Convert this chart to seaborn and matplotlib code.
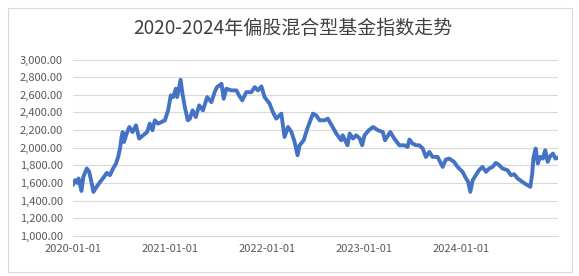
import matplotlib
matplotlib.use("Agg")
import matplotlib.pyplot as plt
from matplotlib.ticker import FuncFormatter, MultipleLocator
from matplotlib.patches import Rectangle
import pandas as pd
import seaborn as sns

title = "2020-2024年偏股混合型基金指数走势"

dates = [
    "2020-01-02", "2020-01-10", "2020-01-18", "2020-01-23", "2020-02-03", "2020-02-10",
    "2020-02-23", "2020-03-03", "2020-03-10", "2020-03-19", "2020-03-31", "2020-04-13",
    "2020-04-28", "2020-05-08", "2020-05-20", "2020-06-01", "2020-06-12", "2020-06-20",
    "2020-06-27", "2020-07-03", "2020-07-07", "2020-07-12", "2020-07-22", "2020-08-01",
    "2020-08-13", "2020-08-26", "2020-09-07", "2020-09-22", "2020-10-07", "2020-10-17",
    "2020-10-27", "2020-11-05", "2020-11-17", "2020-11-30", "2020-12-13", "2020-12-25",
    "2021-01-04", "2021-01-13", "2021-01-23", "2021-01-28", "2021-02-10", "2021-02-17",
    "2021-02-26", "2021-03-09", "2021-03-17", "2021-03-27", "2021-04-08", "2021-04-21",
    "2021-05-05", "2021-05-21", "2021-06-06", "2021-06-18", "2021-06-27", "2021-07-14",
    "2021-07-22", "2021-08-01", "2021-08-20", "2021-09-08", "2021-09-18", "2021-09-30",
    "2021-10-15", "2021-11-03", "2021-11-16", "2021-11-28", "2021-12-11", "2021-12-23",
    "2022-01-11", "2022-01-23", "2022-02-05", "2022-02-24", "2022-03-08", "2022-03-21",
    "2022-04-03", "2022-04-15", "2022-04-26", "2022-05-04", "2022-05-19", "2022-06-04",
    "2022-06-23", "2022-07-05", "2022-07-18", "2022-08-06", "2022-08-18", "2022-08-25",
    "2022-09-06", "2022-09-19", "2022-10-07", "2022-10-13", "2022-10-31", "2022-11-08",
    "2022-11-21", "2022-12-03", "2022-12-16", "2022-12-25", "2023-01-03", "2023-01-19",
    "2023-02-04", "2023-02-23", "2023-03-13", "2023-03-21", "2023-04-10", "2023-04-25",
    "2023-05-14", "2023-06-02", "2023-06-14", "2023-06-21", "2023-07-03", "2023-07-16",
    "2023-07-28", "2023-08-10", "2023-08-22", "2023-09-04", "2023-09-16", "2023-10-05",
    "2023-10-24", "2023-11-05", "2023-11-18", "2023-12-06", "2023-12-19", "2024-01-07",
    "2024-01-20", "2024-01-28", "2024-02-05", "2024-02-14", "2024-02-26", "2024-03-09",
    "2024-03-22", "2024-04-04", "2024-04-16", "2024-04-29", "2024-05-11", "2024-05-24",
    "2024-06-05", "2024-06-24", "2024-07-07", "2024-07-19", "2024-08-01", "2024-08-19",
    "2024-09-07", "2024-09-18", "2024-09-25", "2024-09-30", "2024-10-08", "2024-10-16",
    "2024-10-25", "2024-11-04", "2024-11-13", "2024-11-22", "2024-12-02", "2024-12-12",
    "2024-12-21", "2024-12-31",
]

index_values = [
    1580, 1633, 1602, 1652, 1510, 1670,
    1765, 1727, 1633, 1500, 1557, 1613,
    1670, 1715, 1689, 1765, 1821, 1896,
    1991, 2122, 2178, 2065, 2160, 2235,
    2178, 2254, 2104, 2141, 2178, 2273,
    2198, 2311, 2273, 2292, 2311, 2424,
    2593, 2574, 2669, 2574, 2770, 2612,
    2461, 2311, 2330, 2424, 2348, 2480,
    2424, 2574, 2517, 2630, 2687, 2725,
    2555, 2669, 2650, 2650, 2593, 2537,
    2630, 2630, 2687, 2650, 2695, 2574,
    2499, 2405, 2330, 2386, 2122, 2235,
    2178, 2065, 1915, 2028, 2085, 2235,
    2386, 2367, 2311, 2311, 2330, 2292,
    2230, 2160, 2085, 2141, 2028, 2160,
    2104, 2141, 2104, 2028, 2141, 2198,
    2235, 2198, 2178, 2085, 2178, 2104,
    2028, 2028, 2009, 2093, 2047, 2028,
    2028, 1991, 1896, 1953, 1896, 1896,
    1783, 1866, 1877, 1840, 1783, 1727,
    1652, 1613, 1500, 1633, 1689, 1746,
    1783, 1727, 1765, 1783, 1828, 1802,
    1765, 1746, 1689, 1700, 1652, 1613,
    1576, 1557, 1708, 1896, 1991, 1821,
    1896, 1877, 1972, 1840, 1907, 1934,
    1877, 1889,
]

x_ticks = ["2020-01-01", "2021-01-01", "2022-01-01", "2023-01-01", "2024-01-01"]
x_start, x_end = "2020-01-01", "2024-12-31"
y_min, y_max, y_step = 1000, 3000, 200

df = pd.DataFrame({"date": pd.to_datetime(dates), "value": index_values})

sns.set_theme(style="white")
plt.rcParams["font.family"] = ["Noto Sans CJK SC", "DejaVu Sans"]

fig = plt.figure(figsize=(5.79, 2.76), dpi=100)
ax = fig.add_axes([72.7 / 579, 1 - 236 / 276, (558 - 72.7) / 579, (236 - 59.5) / 276])

sns.lineplot(data=df, x="date", y="value", ax=ax, color="#4472C4", linewidth=2.8)

ax.set_xlim(pd.Timestamp(x_start), pd.Timestamp(x_end))
ax.set_ylim(y_min, y_max)
ax.yaxis.set_major_locator(MultipleLocator(y_step))
ax.yaxis.set_major_formatter(FuncFormatter(lambda v, p: f"{v:,.2f}"))
ax.set_xticks(pd.to_datetime(x_ticks))
ax.set_xticklabels(x_ticks)
ax.set_xlabel("")
ax.set_ylabel("")

ax.grid(axis="y", color="#d9d9d9", linewidth=0.8)
ax.grid(axis="x", visible=False)
ax.set_axisbelow(True)
for s in ["top", "right", "left"]:
    ax.spines[s].set_visible(False)
ax.spines["bottom"].set_color("#d9d9d9")
ax.spines["bottom"].set_linewidth(0.8)

ax.tick_params(axis="y", length=0, pad=7, labelsize=8, labelcolor="#595959")
ax.tick_params(axis="x", length=4, width=0.8, color="#d9d9d9", pad=2,
               labelsize=8, labelcolor="#595959")

fig.text(0.506, 1 - 28 / 276, title, ha="center", va="center",
         fontsize=13.7, color="#404040")

fig.patches.append(Rectangle((8 / 579, 1 - 272 / 276), (572 - 8) / 579, (272 - 8) / 276,
                             transform=fig.transFigure, fill=False,
                             edgecolor="#d9d9d9", linewidth=0.8))

fig.savefig("out.png", dpi=100)
